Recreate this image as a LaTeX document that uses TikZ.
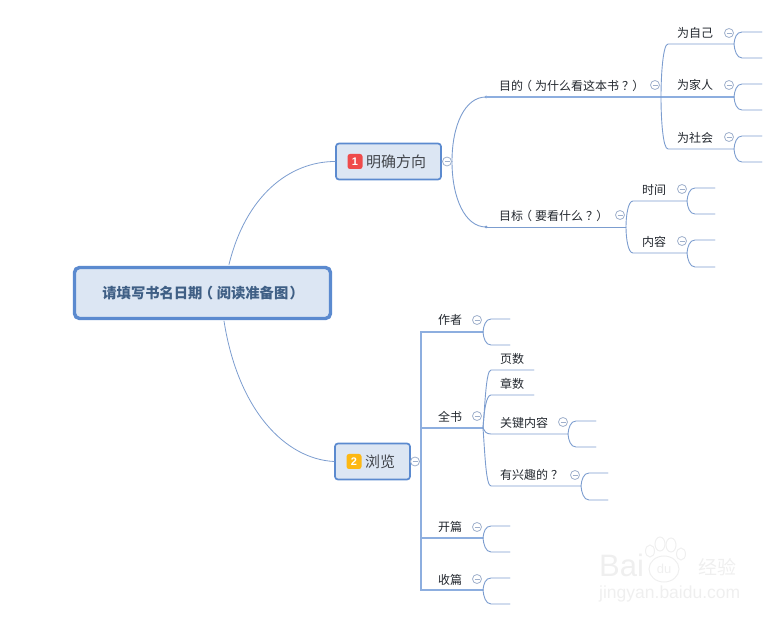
\documentclass[tikz,border=0pt]{standalone}
\usepackage{fontspec}
\setmainfont{Noto Sans CJK SC}
\setsansfont{Liberation Sans}
\usetikzlibrary{calc}
\definecolor{wire}{HTML}{7C9DCF}
\definecolor{trunk}{HTML}{8DAEDF}
\definecolor{rim}{HTML}{5B8ACF}
\definecolor{pale}{HTML}{DCE6F3}
\definecolor{ink}{HTML}{22272E}
\definecolor{roottext}{HTML}{3F5F85}
\definecolor{tint}{HTML}{9FB0CC}
\definecolor{wm}{HTML}{EFEFEF}
\definecolor{badgered}{HTML}{EF4B4B}
\definecolor{badgeorange}{HTML}{FDB813}
\newcommand{\lp}{\kern-.25em（\kern.25em}
\newcommand{\rp}{\kern.1em）\kern-.1em}
\newcommand{\qm}{\kern.25em？\kern-.25em}
\tikzset{
  x=1pt,y=-1pt,
  wireline/.style={draw=wire,line width=0.9pt,line cap=round},
  trunkline/.style={draw=trunk,line width=1.4pt,line cap=round},
  label/.style={anchor=west,inner sep=0pt,text=ink,font=\fontsize{12}{14}\selectfont},
  rootbox/.style={draw=rim,line width=3.4pt,fill=pale,rounded corners=5pt,minimum width=256pt,minimum height=51pt,inner sep=0pt,text=roottext,font=\fontsize{14.3}{16}\bfseries},
  topicbox/.style={draw=rim,line width=1.7pt,fill=pale,rounded corners=3pt,inner sep=0pt,minimum height=36pt},
  badge/.style={rounded corners=2.5pt,minimum size=15pt,inner sep=0pt,text=white,font=\sffamily\bfseries\fontsize{11}{12}\selectfont},
  fold/.style={circle,draw=tint,line width=0.8pt,fill=white,minimum size=9pt,inner sep=0pt},
  watermark/.style={inner sep=0pt,anchor=west,text=wm}
}
\newcommand{\foldmark}[3]{%
  \node[fold] (#1) at (#2,#3) {};
  \draw[draw=tint,line width=0.8pt] ($(#1)+(-2.5,0)$) -- ($(#1)+(2.5,0)$);}
\newcommand{\fork}[6]{%
  \coordinate (#1) at (#2,#3);
  \coordinate (#1a) at ($(#1)+(#4,-#5)$);
  \coordinate (#1b) at ($(#1)+(#4,#6)$);
  \coordinate (#1c) at ($(#1)+(8,-#5)$);
  \coordinate (#1d) at ($(#1)+(8,#6)$);
  \draw[wireline] (#1) .. controls ($(#1)+(0.5,-6)$) and ($(#1)+(2.5,-#5)$) .. (#1c) -- (#1a);
  \draw[wireline] (#1) .. controls ($(#1)+(0.5,6)$) and ($(#1)+(2.5,#6)$) .. (#1d) -- (#1b);}
\begin{document}
\begin{tikzpicture}
\useasboundingbox (0,0) rectangle (780,620);

% watermark
\node[watermark,font=\sffamily\fontsize{31}{33}\selectfont] (wmbai) at (599,565) {Bai};
\node[watermark,font=\sffamily\fontsize{13}{14}\selectfont,anchor=center] (wmdu) at (664,569) {du};
\node[watermark,font=\fontsize{19}{21}\selectfont] (wmjy) at (698,567) {经验};
\node[watermark,font=\sffamily\fontsize{17.5}{19}\selectfont] (wmurl) at (599,594) {jingyan.baidu.com};
\draw[wm,line width=1pt] (664,569) ellipse (15 and 13);
\draw[wm,line width=1pt] (650,551) ellipse (4.5 and 6);
\draw[wm,line width=1pt] (660,544) ellipse (5 and 7);
\draw[wm,line width=1pt] (671,545) ellipse (5 and 7);
\draw[wm,line width=1pt] (681,554) ellipse (4.5 and 6);

% nodes
\node[rootbox] (root) at (202.5,293) {请填写书名日期\lp 阅读准备图\rp};
\node[topicbox,minimum width=105pt] (t1) at (388.5,161.5) {};
\node[topicbox,minimum width=75pt] (t2) at (372.5,461.5) {};
\node[badge,fill=badgered] (b1) at (355,161.5) {1};
\node[badge,fill=badgeorange] (b2) at (354,461.5) {2};
\node[label,font=\fontsize{15}{16}\selectfont,text=ink!85!white] (t1text) at (366,161.5) {明确方向};
\node[label,font=\fontsize{15}{16}\selectfont,text=ink!85!white] (t2text) at (365,461.5) {浏览};

% root connectors
\draw[wireline,line width=0.8pt] (229,264.5) .. controls (246,195) and (290,161.5) .. (t1.west);
\draw[wireline,line width=0.8pt] (224,321) .. controls (238,410) and (285,459) .. (t2.west);

% upper branch
\coordinate (goalA) at (486,97);
\coordinate (goalB) at (486,227);
\coordinate (split1) at (452,161.5);
\draw[wireline] (t1.east) -- (split1);
\draw[wireline] (split1) .. controls (452,125) and (465,97) .. (goalA);
\draw[wireline] (split1) .. controls (452,198) and (465,227) .. (goalB);
\fill[wire] (goalA) circle (1.5);
\fill[wire] (goalB) circle (1.5);
\coordinate (hubA) at (661,97);
\coordinate (hubB) at (626,227);
\coordinate (self) at (734,44);
\coordinate (fam) at (734,97);
\coordinate (soc) at (734,149);
\coordinate (when) at (687,201);
\coordinate (what) at (687,253);
\draw[trunkline] (goalA) -- (hubA) -- (fam);
\draw[wireline] (goalB) -- (hubB);
\draw[wireline] (hubA) .. controls (661,75) and (663,44) .. (668,44) -- (self);
\draw[wireline] (hubA) .. controls (661,120) and (663,149) .. (668,149) -- (soc);
\draw[wireline] (hubB) .. controls (626,216) and (628,201) .. (633,201) -- (when);
\draw[wireline] (hubB) .. controls (626,238) and (628,253) .. (633,253) -- (what);
\fork{fkself}{734}{44}{28}{12}{14}
\fork{fkfam}{734}{97}{28}{13}{13}
\fork{fksoc}{734}{149}{28}{13}{13}
\fork{fkwhen}{687}{201}{28}{13}{13}
\fork{fkwhat}{687}{253}{28}{13}{14}

% lower branch
\coordinate (trunkT) at (421,332);
\coordinate (trunkB) at (421,590);
\coordinate (trunkM) at (421,461.5);
\coordinate (au) at (483,332);
\coordinate (bk) at (483,428);
\coordinate (op) at (483,538);
\coordinate (en) at (483,590);
\coordinate (tk) at (421,428);
\coordinate (tn) at (421,538);
\draw[wireline] (t2.east) -- (trunkM);
\draw[trunkline] (au) -- (trunkT) -- (trunkB) -- (en);
\draw[trunkline] (tk) -- (bk);
\draw[trunkline] (tn) -- (op);
\fork{fkau}{483}{332}{27}{13}{13}
\fork{fkop}{483}{538}{27}{12}{14}
\fork{fken}{483}{590}{27}{12}{14}
\coordinate (pg) at (534,370);
\coordinate (ch) at (534,395);
\coordinate (key) at (568,434);
\coordinate (fun) at (581,486);
\draw[wireline] (bk) .. controls (485,405) and (486,370) .. (491,370) -- (pg);
\draw[wireline] (bk) .. controls (484,412) and (486,395) .. (491,395) -- (ch);
\draw[wireline] (bk) .. controls (484,431) and (486,434) .. (491,434) -- (key);
\draw[wireline] (bk) .. controls (485,455) and (486,486) .. (491,486) -- (fun);
\fork{fkkey}{568}{434}{28}{13}{13}
\fork{fkfun}{581}{486}{27}{13}{14}

% labels
\node[label] (l1) at (499,86) {目的\lp 为什么看这本书\qm\rp};
\node[label] (l2) at (499,216) {目标\lp 要看什么\qm\rp};
\node[label] (l3) at (677,33) {为自己};
\node[label] (l4) at (677,85) {为家人};
\node[label] (l5) at (677,138) {为社会};
\node[label] (l6) at (642,190) {时间};
\node[label] (l7) at (642,242) {内容};
\node[label] (l8) at (438,320) {作者};
\node[label] (l9) at (438,417) {全书};
\node[label] (l10) at (438,527) {开篇};
\node[label] (l11) at (438,580) {收篇};
\node[label] (l12) at (500,359) {页数};
\node[label] (l13) at (500,384) {章数};
\node[label] (l14) at (500,423) {关键内容};
\node[label] (l15) at (500,475) {有兴趣的\qm};

% fold marks
\foldmark{f1}{447}{161.5}
\foldmark{f2}{415}{461.5}
\foldmark{f3}{655}{85}
\foldmark{f4}{729}{33}
\foldmark{f5}{729}{85}
\foldmark{f6}{729}{137}
\foldmark{f7}{620}{215}
\foldmark{f8}{682}{189}
\foldmark{f9}{682}{241}
\foldmark{f10}{477}{320}
\foldmark{f11}{477}{416}
\foldmark{f12}{477}{527}
\foldmark{f13}{477}{579}
\foldmark{f14}{563}{422}
\foldmark{f15}{575}{475}
\end{tikzpicture}
\end{document}
